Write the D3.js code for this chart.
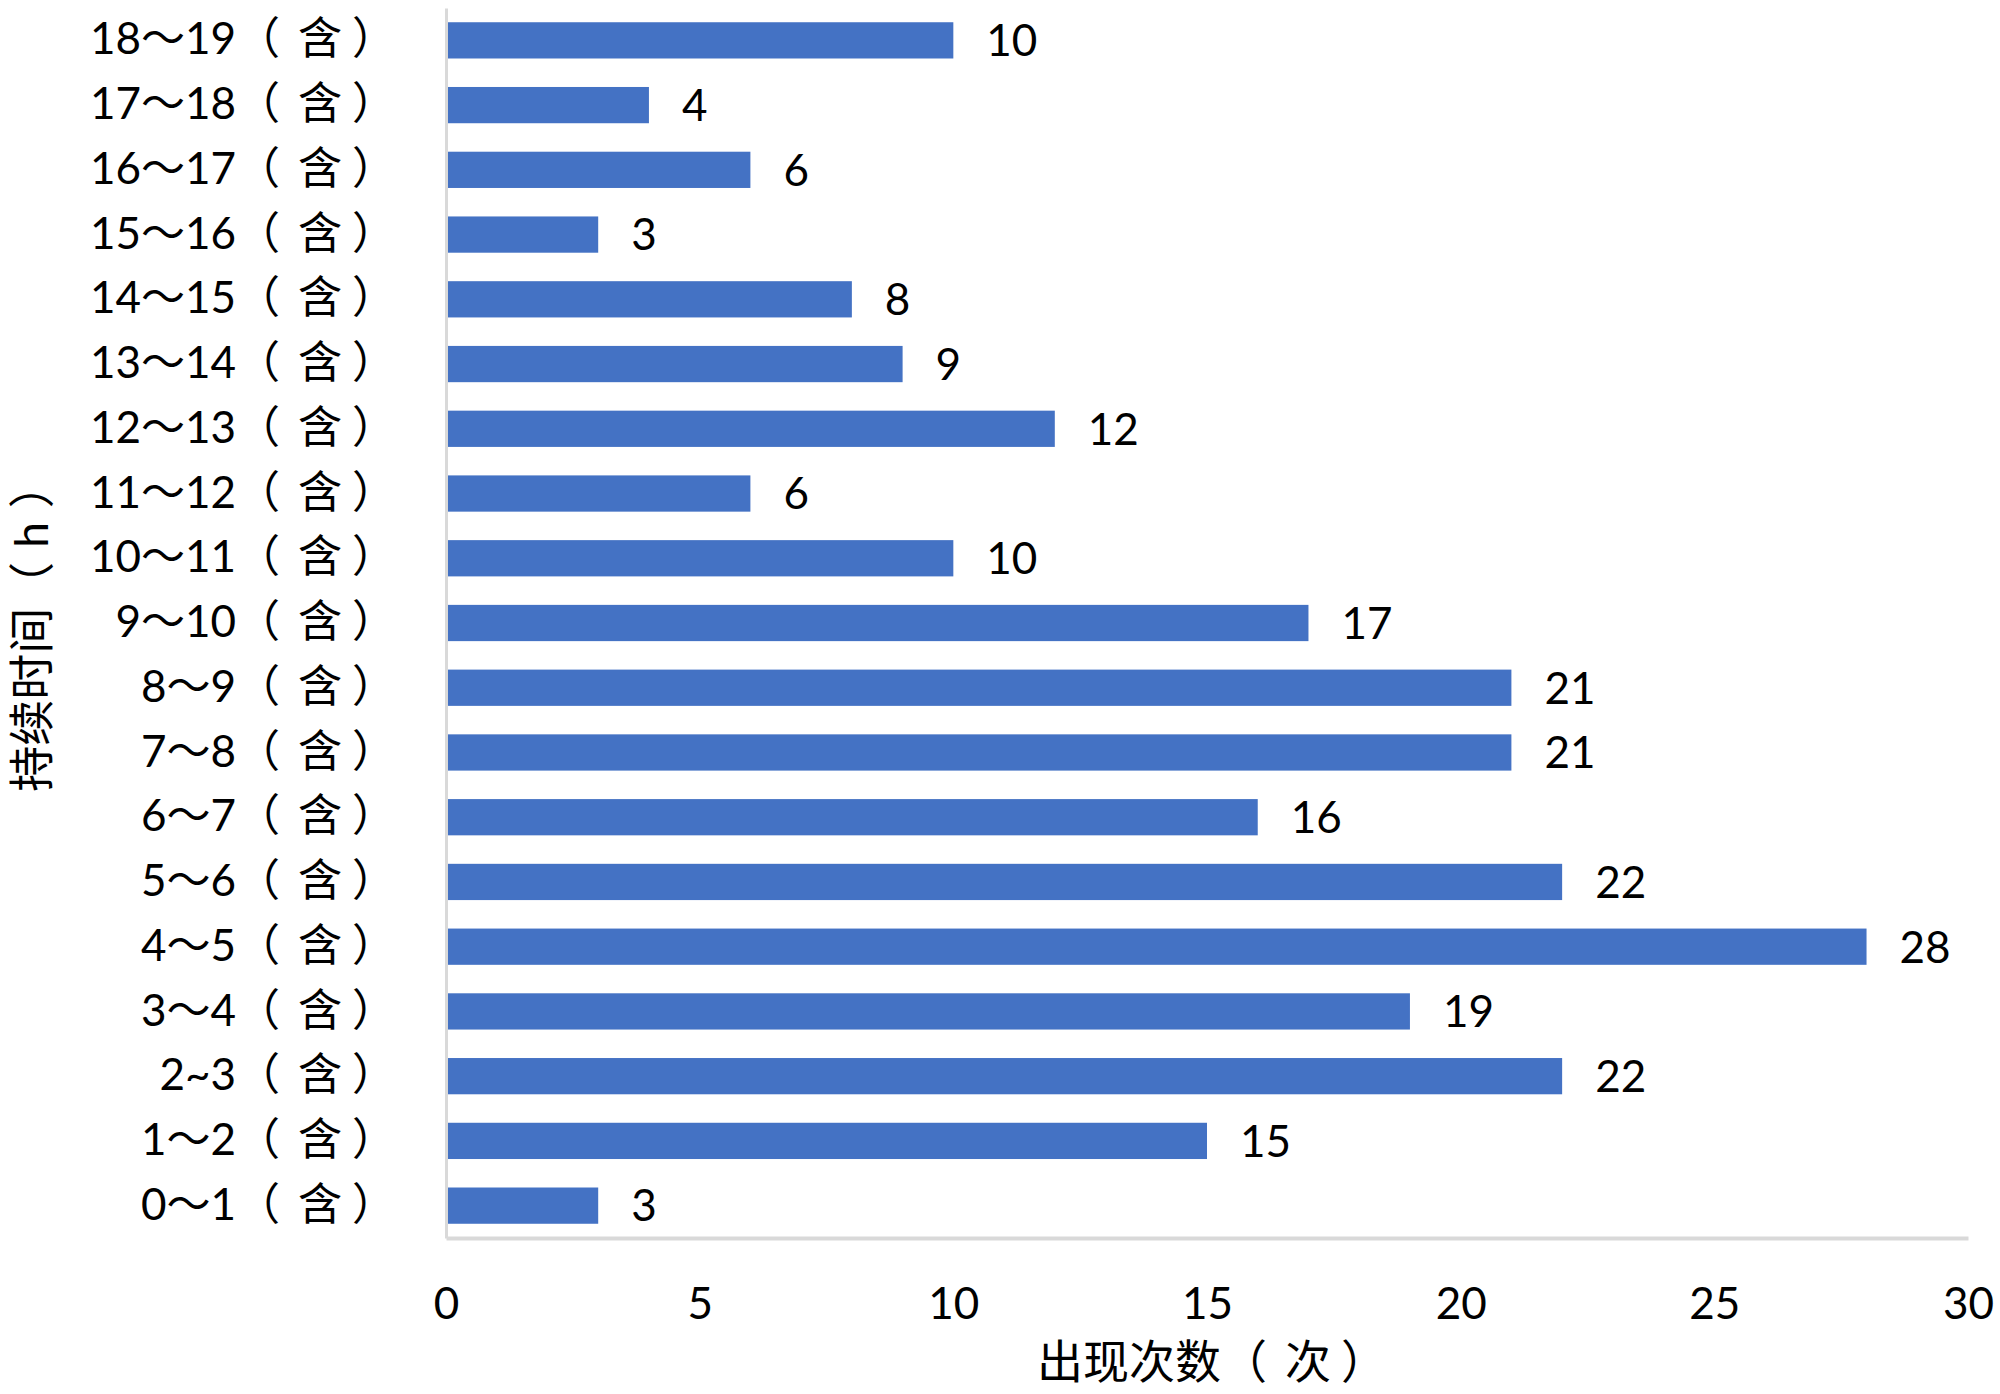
<!DOCTYPE html>
<html>
<head>
<meta charset="utf-8">
<script src="https://cdn.jsdelivr.net/npm/d3@7"></script>
<style>
  body { margin: 0; background: #ffffff; }
  text { font-family: Lato, "Noto Sans CJK SC", sans-serif; fill: #000000; }
</style>
</head>
<body>
<svg></svg>
<script>
// categories, top to bottom as in the picture
let categories = [
  '18～19（含）', '17～18（含）', '16～17（含）', '15～16（含）', '14～15（含）',
  '13～14（含）', '12～13（含）', '11～12（含）', '10～11（含）', '9～10（含）',
  '8～9（含）', '7～8（含）', '6～7（含）', '5～6（含）', '4～5（含）',
  '3～4（含）', '2~3（含）', '1～2（含）', '0～1（含）'
];

// number of occurrences per category
let counts = [10, 4, 6, 3, 8, 9, 12, 6, 10, 17, 21, 21, 16, 22, 28, 19, 22, 15, 3];

// x axis ticks
let xTicks = [0, 5, 10, 15, 20, 25, 30];

let xTitle = '出现次数（次）';
let yTitle = '持续时间（h）';

// configuration of svg/plot area
let config = {
  'svg': {},
  'margin': {},
  'plot': {}
};

config.svg.width = 2000;
config.svg.height = 1394;

config.margin.top = 8;
config.margin.left = 446;
config.margin.right = 32;
config.margin.bottom = 156;

config.plot.x = config.margin.left;
config.plot.y = config.margin.top;
config.plot.width = config.svg.width - config.margin.left - config.margin.right;
config.plot.height = config.svg.height - config.margin.top - config.margin.bottom;

let svg = d3.select('body').select('svg');
svg.attr('width', config.svg.width);
svg.attr('height', config.svg.height);

let plot = svg.append('g');
plot.attr('id', 'plot');
plot.attr('transform', translate(config.plot.x, config.plot.y));

// scales
let scale = {};

scale.x = d3.scaleLinear()
  .domain([0, 30])
  .range([0, config.plot.width]);

scale.y = d3.scaleBand()
  .domain(categories)
  .range([0, config.plot.height])
  .paddingInner(0.44)
  .paddingOuter(0.22);

let data = categories.map((c, i) => ({ label: c, value: counts[i] }));

// bars
plot.selectAll('rect.bar')
  .data(data)
  .enter()
  .append('rect')
  .attr('class', 'bar')
  .attr('x', 0)
  .attr('y', d => scale.y(d.label))
  .attr('width', d => scale.x(d.value))
  .attr('height', scale.y.bandwidth())
  .style('fill', '#4472C4');

// value labels
plot.selectAll('text.value')
  .data(data)
  .enter()
  .append('text')
  .attr('class', 'value')
  .attr('x', d => scale.x(d.value) + 33)
  .attr('y', d => scale.y(d.label) + scale.y.bandwidth() / 2)
  .attr('dy', '0.36em')
  .style('font-size', '44px')
  .text(d => d.value);

// axes
let axis = {};
axis.x = d3.axisBottom(scale.x).tickValues(xTicks).tickSize(0).tickPadding(50);
axis.y = d3.axisLeft(scale.y).tickSize(0).tickPadding(50);

let gx = plot.append('g')
  .attr('id', 'x-axis')
  .attr('transform', translate(0, config.plot.height))
  .call(axis.x);
gx.select('.domain').attr('stroke', '#D9D9D9').attr('stroke-width', 4);
gx.selectAll('text').style('font-size', '44px').attr('font-family', null);

let gy = plot.append('g')
  .attr('id', 'y-axis')
  .call(axis.y);
gy.select('.domain').attr('stroke', '#D9D9D9').attr('stroke-width', 3);
gy.selectAll('text')
  .style('font-size', '44px')
  .attr('font-family', null)
  .each(function(d) { spreadParens(d3.select(this), d, [18, 10]); });

// axis titles
let tx = svg.append('text')
  .attr('x', 1212)
  .attr('y', 1362)
  .attr('dy', '0.35em')
  .style('text-anchor', 'middle')
  .style('font-size', '46px');
spreadParens(tx, xTitle, [18, 10]);

let ty = svg.append('text')
  .attr('transform', translate(32, 627) + ' rotate(-90)')
  .attr('dy', '0.35em')
  .style('text-anchor', 'middle')
  .style('font-size', '46px');
spreadParens(ty, yTitle, [14, 14]);

// the CJK font draws full-width brackets tight, so open them up a little
// gaps: [space before the inner text, space before the closing bracket]
function spreadParens(sel, label, gaps) {
  let open = label.indexOf('（');
  sel.text(null);
  sel.append('tspan').text(label.slice(0, open + 1));
  sel.append('tspan').attr('dx', gaps[0]).text(label.slice(open + 1, label.length - 1));
  sel.append('tspan').attr('dx', gaps[1]).text('）');
}

// helper method to make translating easier
function translate(x, y) {
  return 'translate(' + x + ',' + y + ')';
}
</script>
</body>
</html>
